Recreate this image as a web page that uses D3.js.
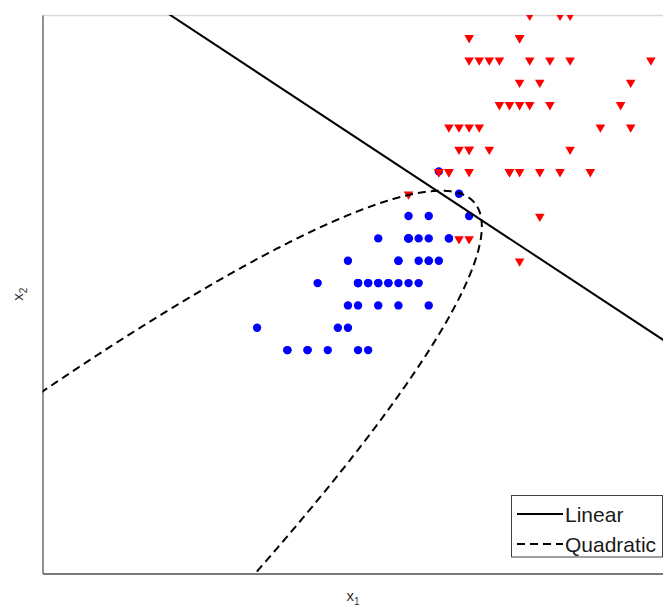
<!DOCTYPE html>
<html>
<head>
<meta charset="utf-8">
<script src="https://cdn.jsdelivr.net/npm/d3@7"></script>
<style>
  html, body { margin: 0; padding: 0; background: #fff; }
  svg { display: block; font-family: "Liberation Sans", Arial, Helvetica, sans-serif; }
</style>
</head>
<body>
<svg id="chart" width="663" height="608"></svg>
<script>
// Petal length (x1) and petal width (x2) for the two iris groups
const versicolorX1 = [4.7,4.5,4.9,4.0,4.6,4.5,4.7,3.3,4.6,3.9,3.5,4.2,4.0,4.7,3.6,4.4,4.5,4.1,4.5,3.9,
                      4.8,4.0,4.9,4.7,4.3,4.4,4.8,5.0,4.5,3.5,3.8,3.7,3.9,5.1,4.5,4.5,4.7,4.4,4.1,4.0,
                      4.4,4.6,4.0,3.3,4.2,4.2,4.2,4.3,3.0,4.1];
const versicolorX2 = [1.4,1.5,1.5,1.3,1.5,1.3,1.6,1.0,1.3,1.4,1.0,1.5,1.0,1.4,1.3,1.4,1.5,1.0,1.5,1.1,
                      1.8,1.3,1.5,1.2,1.3,1.4,1.4,1.7,1.5,1.0,1.1,1.0,1.2,1.6,1.5,1.6,1.5,1.3,1.3,1.3,
                      1.2,1.4,1.2,1.0,1.3,1.2,1.3,1.3,1.1,1.3];
const virginicaX1 = [6.0,5.1,5.9,5.6,5.8,6.6,4.5,6.3,5.8,6.1,5.1,5.3,5.5,5.0,5.1,5.3,5.5,6.7,6.9,5.0,
                     5.7,4.9,6.7,4.9,5.7,6.0,4.8,4.9,5.6,5.8,6.1,6.4,5.6,5.1,5.6,6.1,5.6,5.5,4.8,5.4,
                     5.6,5.1,5.1,5.9,5.7,5.2,5.0,5.2,5.4,5.1];
const virginicaX2 = [2.5,1.9,2.1,1.8,2.2,2.1,1.7,1.8,1.8,2.5,2.0,1.9,2.1,2.0,2.4,2.3,1.8,2.2,2.3,1.5,
                     2.3,2.0,2.0,1.8,2.1,1.8,1.8,1.8,2.1,1.6,1.9,2.0,2.2,1.5,1.4,2.3,2.4,1.8,1.8,2.1,
                     2.4,2.3,1.9,2.3,2.5,2.3,1.9,2.0,2.3,1.8];

const xDomain = [0.875, 7.025];
const yDomain = [0, 2.5];
const legendLabels = ["Linear", "Quadratic"];
const xLabel = ["x", "1"];
const yLabel = ["x", "2"];

const W = 663, H = 608;
const plot = { left: 42.5, top: 15, right: 663.5, bottom: 573.5 };

const svg = d3.select("#chart");

const x = d3.scaleLinear().domain(xDomain).range([plot.left, plot.right]);
const y = d3.scaleLinear().domain(yDomain).range([plot.bottom, plot.top]);

svg.append("defs").append("clipPath").attr("id", "plotClip")
  .append("rect")
  .attr("x", plot.left).attr("y", plot.top)
  .attr("width", plot.right - plot.left).attr("height", plot.bottom - plot.top);

// ---- group statistics ----
function stats(xs, ys) {
  const n = xs.length;
  const mx = d3.mean(xs), my = d3.mean(ys);
  let sxx = 0, syy = 0, sxy = 0;
  for (let i = 0; i < n; i++) {
    const dx = xs[i] - mx, dy = ys[i] - my;
    sxx += dx * dx; syy += dy * dy; sxy += dx * dy;
  }
  return { n, m: [mx, my], S: [[sxx / (n - 1), sxy / (n - 1)], [sxy / (n - 1), syy / (n - 1)]] };
}
function inv2(S) {
  const det = S[0][0] * S[1][1] - S[0][1] * S[1][0];
  return { det, I: [[S[1][1] / det, -S[0][1] / det], [-S[1][0] / det, S[0][0] / det]] };
}
function mulMV(M, v) { return [M[0][0] * v[0] + M[0][1] * v[1], M[1][0] * v[0] + M[1][1] * v[1]]; }
function dot(a, b) { return a[0] * b[0] + a[1] * b[1]; }

const g1 = stats(versicolorX1, versicolorX2);
const g2 = stats(virginicaX1, virginicaX2);

// Linear boundary: pooled covariance, equal priors
const Sp = [0, 1].map(i => [0, 1].map(j =>
  ((g1.n - 1) * g1.S[i][j] + (g2.n - 1) * g2.S[i][j]) / (g1.n + g2.n - 2)));
const Spi = inv2(Sp).I;
const wv = mulMV(Spi, [g2.m[0] - g1.m[0], g2.m[1] - g1.m[1]]);
const kConst = dot(wv, [(g1.m[0] + g2.m[0]) / 2, (g1.m[1] + g2.m[1]) / 2]);
const linearPts = xDomain.map(v => [v, (kConst - wv[0] * v) / wv[1]]);

// Quadratic boundary: separate covariances, equal priors -> p'Qp + b'p + g = 0
const i1 = inv2(g1.S), i2 = inv2(g2.S);
let Q = [[0.5 * (i1.I[0][0] - i2.I[0][0]), 0.5 * (i1.I[0][1] - i2.I[0][1])],
         [0.5 * (i1.I[1][0] - i2.I[1][0]), 0.5 * (i1.I[1][1] - i2.I[1][1])]];
const a1 = mulMV(i1.I, g1.m), a2 = mulMV(i2.I, g2.m);
let b = [-(a1[0] - a2[0]), -(a1[1] - a2[1])];
let gC = 0.5 * (dot(g1.m, a1) - dot(g2.m, a2)) + 0.5 * Math.log(i1.det / i2.det);
if (Q[0][0] < 0) {
  Q = Q.map(r => r.map(v => -v)); b = b.map(v => -v); gC = -gC;
}
const Qi = inv2(Q).I;
const qb = mulMV(Qi, b);
const center = [-0.5 * qb[0], -0.5 * qb[1]];
const rr = dot(center, mulMV(Q, center)) - gC;
const l11 = Math.sqrt(Q[0][0]);
const l21 = Q[0][1] / l11;
const l22 = Math.sqrt(Q[1][1] - l21 * l21);
const sr = Math.sqrt(rr);
const quadPts = d3.range(0, 8001).map(k => {
  const t = (k / 8000) * 2 * Math.PI;
  const z1 = sr * Math.cos(t), z2 = sr * Math.sin(t);
  return [center[0] + z1 / l11 - (l21 * z2) / (l11 * l22), center[1] + z2 / l22];
});

// ---- frame ----
const frame = svg.append("g");
frame.append("g").attr("transform", `translate(0,${plot.top})`)
  .call(d3.axisTop(x).tickValues([]).tickSizeOuter(0))
  .call(g => g.select(".domain").attr("stroke", "#d9d9d9").attr("stroke-width", 1.5));
frame.append("g").attr("transform", `translate(0,${plot.bottom})`)
  .call(d3.axisBottom(x).tickValues([]).tickSizeOuter(0))
  .call(g => g.select(".domain").attr("stroke", "#4d4d4d").attr("stroke-width", 1.5));
frame.append("g").attr("transform", `translate(${plot.left},0)`)
  .call(d3.axisLeft(y).tickValues([]).tickSizeOuter(0))
  .call(g => g.select(".domain").attr("stroke", "#6e6e6e").attr("stroke-width", 1.5));

// ---- points ----
const pts = svg.append("g").attr("clip-path", "url(#plotClip)");
pts.selectAll("circle.versicolor")
  .data(d3.zip(versicolorX1, versicolorX2))
  .join("circle")
  .attr("class", "versicolor")
  .attr("cx", d => x(d[0])).attr("cy", d => y(d[1]))
  .attr("r", 4.2)
  .attr("fill", "#0000ff");

const tri = d3.symbol().type(d3.symbolTriangle).size(40);
pts.selectAll("path.virginica")
  .data(d3.zip(virginicaX1, virginicaX2))
  .join("path")
  .attr("class", "virginica")
  .attr("d", tri)
  .attr("transform", d => `translate(${x(d[0])},${y(d[1]) + 0.5}) rotate(180)`)
  .attr("fill", "#ff0000");

// ---- boundaries ----
const line = d3.line().x(d => x(d[0])).y(d => y(d[1]));
const bounds = svg.append("g").attr("clip-path", "url(#plotClip)");
bounds.append("path")
  .attr("d", line(linearPts))
  .attr("fill", "none").attr("stroke", "#000").attr("stroke-width", 2);
bounds.append("path")
  .attr("d", line(quadPts))
  .attr("fill", "none").attr("stroke", "#000").attr("stroke-width", 2)
  .attr("stroke-dasharray", "8,5");

// ---- axis labels ----
const xl = svg.append("text")
  .attr("x", (plot.left + plot.right) / 2).attr("y", 601)
  .attr("text-anchor", "middle").attr("font-size", 15).attr("fill", "#333");
xl.append("tspan").text(xLabel[0]);
xl.append("tspan").attr("font-size", 10).attr("dy", 4).text(xLabel[1]);

const yl = svg.append("text")
  .attr("transform", `translate(23,${(plot.top + plot.bottom) / 2}) rotate(-90)`)
  .attr("text-anchor", "middle").attr("font-size", 15).attr("fill", "#333");
yl.append("tspan").text(yLabel[0]);
yl.append("tspan").attr("font-size", 10).attr("dy", 4).text(yLabel[1]);

// ---- legend ----
const leg = svg.append("g");
leg.append("rect")
  .attr("x", 511.5).attr("y", 495.5).attr("width", 151).attr("height", 61.5)
  .attr("fill", "#fff").attr("stroke", "#404040").attr("stroke-width", 1);
const rows = leg.selectAll("g.row").data(legendLabels).join("g")
  .attr("class", "row")
  .attr("transform", (d, i) => `translate(517,${514 + i * 30})`);
rows.append("line")
  .attr("x1", 0).attr("x2", 46).attr("y1", 0).attr("y2", 0)
  .attr("stroke", "#000").attr("stroke-width", 2)
  .attr("stroke-dasharray", (d, i) => i === 0 ? null : "8,5");
rows.append("text")
  .attr("x", 48).attr("y", 7.5)
  .attr("font-size", 21).attr("fill", "#1a1a1a")
  .text(d => d);
</script>
</body>
</html>
